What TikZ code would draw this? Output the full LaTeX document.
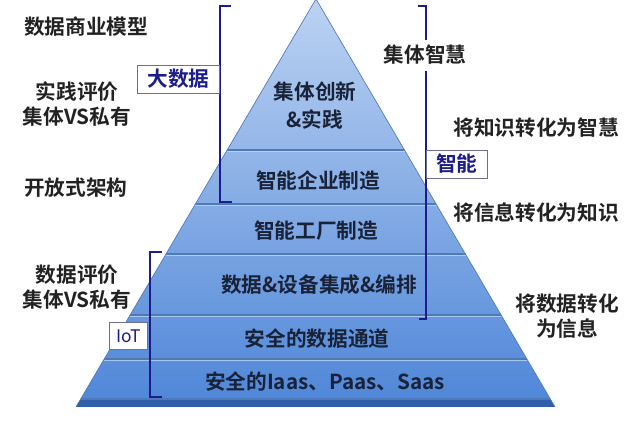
\documentclass[tikz,border=0pt]{standalone}
\usepackage{fontspec}
\setmainfont{Noto Sans CJK SC}[BoldFont={Noto Sans CJK SC Bold}]
\usetikzlibrary{calc}
\definecolor{navy}{HTML}{1C1C8C}
\definecolor{ptext}{HTML}{1A2238}
\definecolor{ltext}{HTML}{222222}
\definecolor{ptop}{HTML}{BCD2F2}
\definecolor{pbot}{HTML}{4E86D8}
\definecolor{sepdark}{HTML}{4F79B8}
\definecolor{seplight}{HTML}{C9DCF6}
\definecolor{basedark}{HTML}{2F5FA8}
\definecolor{boxline}{HTML}{6E6E96}
\tikzset{
  lbl/.style={font=\fontsize{15.5}{19}\selectfont\bfseries, text=ltext, inner sep=0pt, align=center},
  ptx/.style={font=\fontsize{15.5}{21}\selectfont\bfseries, text=ptext, inner sep=0pt, align=center},
  tagbox/.style={draw=boxline, line width=0.6pt, fill=white, text=navy, font=\fontsize{15.5}{19}\selectfont\bfseries, inner sep=0pt},
  brk/.style={draw=navy, line width=1.6pt}
}
\begin{document}
\begin{tikzpicture}[x=0.75pt,y=-0.75pt]
\useasboundingbox (0,0) rectangle (640,423);
% pyramid
\coordinate (A) at (316,-1);
\coordinate (L) at (76,407);
\coordinate (R) at (555,407);
\begin{scope}
  \clip (A) -- (L) -- (R) -- cycle;
  \shade[top color=ptop, bottom color=pbot] (0,-1) rectangle (640,407);
  \foreach \yy in {150,204,254,315,359,399}{
    \draw[sepdark, line width=1.1pt] (0,\yy) -- (640,\yy);
    \draw[seplight, line width=0.9pt, opacity=0.7] (0,\yy+1.6) -- (640,\yy+1.6);
  }
  \fill[basedark] (0,400) rectangle (640,408);
\end{scope}
\draw[sepdark, line width=0.5pt] (L) -- (A) -- (R);
% pyramid texts
\node[ptx] (p1) at (315,106) {集体创新\\\&实践};
\node[ptx] (p2) at (318,181) {智能企业制造};
\node[ptx] (p3) at (316,231) {智能工厂制造};
\node[ptx] (p4) at (319,285) {数据\&设备集成\&编排};
\node[ptx] (p5) at (317,339) {安全的数据通道};
\node[ptx] (p6) at (325,382) {安全的Iaas、Paas、Saas};
% left labels
\node[lbl, anchor=west] (l1) at (24,27) {数据商业模型};
\node[lbl] (l2) at (77,104) {实践评价\\集体VS私有};
\node[lbl, anchor=west] (l3) at (24,188) {开放式架构};
\node[lbl] (l4) at (77,287) {数据评价\\集体VS私有};
% right labels
\node[lbl] (r1) at (425,55) {集体智慧};
\node[lbl] (r2) at (536,128) {将知识转化为智慧};
\node[lbl] (r3) at (536,213) {将信息转化为知识};
\node[lbl] (r4) at (567,316) {将数据转化\\为信息};
% brackets
\draw[brk] (231,6) -- (220,6) -- (220,202) -- (232,202);
\draw[brk] (418,6) -- (426,6) -- (426,40);
\draw[brk] (426,71) -- (426,319) -- (419,319);
\draw[brk] (162,252) -- (150,252) -- (150,397) -- (162,397);
% tag boxes
\node[tagbox, minimum width=82pt*0.75, minimum height=28pt*0.75, anchor=east] (bd) at (220,79) {大数据};
\node[tagbox, minimum width=61pt*0.75, minimum height=28pt*0.75, anchor=west] (zn) at (426,164) {智能};
\node[tagbox, font=\fontsize{13}{15}\selectfont, minimum width=38pt*0.75, minimum height=27pt*0.75, anchor=east] (iot) at (148,336) {IoT};
\end{tikzpicture}
\end{document}
